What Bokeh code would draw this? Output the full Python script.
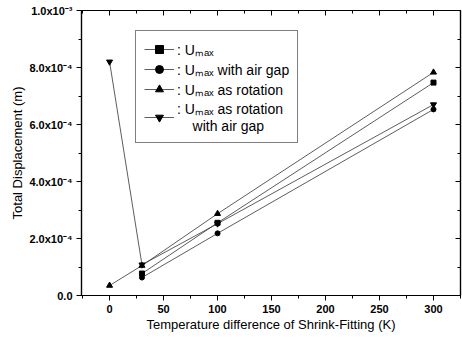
from bokeh.plotting import figure
from bokeh.models import (FixedTicker, LinearAxis, Range1d, Legend, LegendItem)
from bokeh.embed import file_html
from bokeh.resources import INLINE

# ---- data ----
x_umax = [30, 100, 300]
y_umax = [7.7e-5, 2.55e-4, 7.47e-4]
x_gap = [30, 100, 300]
y_gap = [6.3e-5, 2.18e-4, 6.53e-4]
x_rot = [0, 30, 100, 300]
y_rot = [3.5e-5, 1.05e-4, 2.87e-4, 7.83e-4]
x_rotgap = [0, 30, 100, 300]
y_rotgap = [8.2e-4, 1.08e-4, 2.52e-4, 6.70e-4]

x_ticks = [0, 50, 100, 150, 200, 250, 300]
y_ticks = [0.0, 2e-4, 4e-4, 6e-4, 8e-4, 1e-3]
y_tick_labels = ["0.0", "2.0x10\u207b\u2074", "4.0x10\u207b\u2074", "6.0x10\u207b\u2074",
                 "8.0x10\u207b\u2074", "1.0x10\u207b\u00b3"]

FONT = "Liberation Sans"

p = figure(width=462, height=343, output_backend="svg", toolbar_location=None,
           x_range=Range1d(-26, 325), y_range=Range1d(0, 1e-3),
           min_border_left=81, min_border_right=2, min_border_top=10, min_border_bottom=48)
p.grid.visible = False
p.outline_line_color = "black"
p.outline_line_width = 1.2
p.background_fill_color = "white"

series = [
    (x_umax, y_umax, "square", ": U\u2098\u2090\u2093", 5),
    (x_gap, y_gap, "circle", ": U\u2098\u2090\u2093 with air gap", 5),
    (x_rot, y_rot, "triangle", ": U\u2098\u2090\u2093 as rotation", 6),
    (x_rotgap, y_rotgap, "inverted_triangle", ": U\u2098\u2090\u2093 as rotation\n    with air gap", 6),
]
items = []
for xs, ys, mk, lab, sz in series:
    l = p.line(xs, ys, line_color="#333333", line_width=0.8)
    s = p.scatter(xs, ys, marker=mk, size=sz, fill_color="black", line_color="black")
    items.append(LegendItem(label=lab, renderers=[l, s]))

legend = Legend(items=items, location=(54, 152), border_line_color="black",
                border_line_width=1.5, label_text_font=FONT, label_text_font_size="14px",
                label_text_color="black",
                glyph_width=30, glyph_height=20, label_standoff=3, spacing=0, padding=8, margin=0,
                label_height=20, background_fill_alpha=1)
p.add_layout(legend, "center")

# axes
xa = p.xaxis[0]
xa.ticker = FixedTicker(ticks=x_ticks, minor_ticks=list(range(-25, 326, 25)))
xa.axis_label = "Temperature difference of Shrink-Fitting (K)"
ya = p.yaxis[0]
ya.ticker = FixedTicker(ticks=y_ticks, minor_ticks=[i * 1e-4 for i in range(11)])
ya.major_label_overrides = {t: l for t, l in zip(y_ticks, y_tick_labels)}
ya.axis_label = "Total Displacement (m)"
for ax in (xa, ya):
    ax.axis_line_width = 1.2
    ax.axis_line_color = "black"
    ax.major_tick_line_color = "black"
    ax.minor_tick_line_color = "black"
    ax.major_tick_in = 0
    ax.major_tick_out = 5
    ax.minor_tick_in = 0
    ax.minor_tick_out = 3
    ax.major_label_text_font = FONT
    ax.major_label_text_font_size = "11px"
    ax.major_label_text_font_style = "bold"
    ax.major_label_text_color = "black"
    ax.axis_label_text_font = FONT
    ax.axis_label_text_font_size = "13px"
    ax.axis_label_text_font_style = "normal"
    ax.axis_label_text_color = "black"
    ax.major_label_standoff = 4
    ax.axis_label_standoff = 1

top = LinearAxis(ticker=FixedTicker(ticks=x_ticks, minor_ticks=list(range(-25, 326, 25))),
                 major_label_text_font_size="0px", major_label_text_color=None,
                 major_tick_in=5, major_tick_out=0, minor_tick_in=3, minor_tick_out=0,
                 axis_line_width=1.2, major_label_standoff=0)
p.add_layout(top, "above")
right = LinearAxis(ticker=FixedTicker(ticks=y_ticks, minor_ticks=[i * 1e-4 for i in range(11)]),
                   major_label_text_font_size="0px", major_label_text_color=None,
                   major_tick_in=5, major_tick_out=0, minor_tick_in=3, minor_tick_out=0,
                   axis_line_width=1.2, major_label_standoff=0)
p.add_layout(right, "right")

open("out.html", "w").write(file_html(p, INLINE))
